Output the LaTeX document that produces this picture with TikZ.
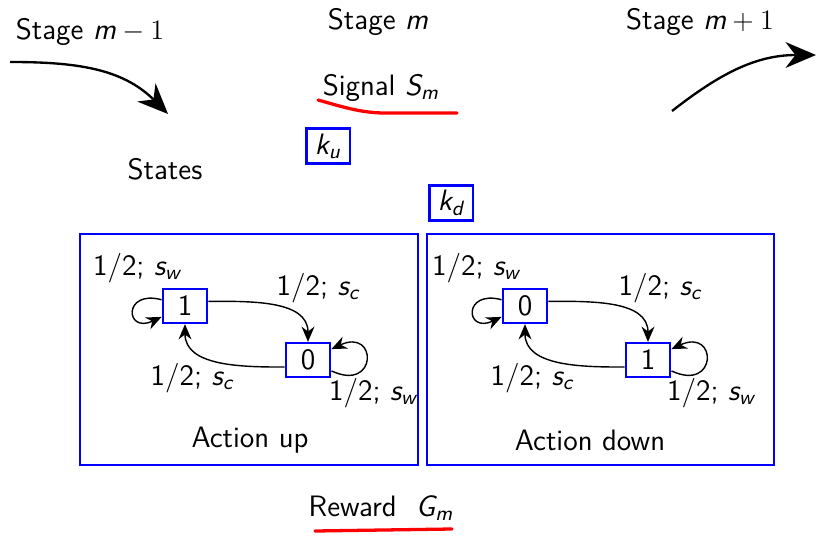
\documentclass[tikz,border=0pt]{standalone}
\usepackage{amstext}
\usetikzlibrary{arrows.meta}
\newcommand{\mv}[1]{\textit{#1}}

\begin{document}
\begin{tikzpicture}[x=0.015cm,y=0.015cm,font=\fontsize{12.6}{15}\sffamily,
  state/.style={draw=blue,line width=1pt,minimum width=19pt,minimum height=14.5pt,inner sep=1pt},
  kbox/.style={draw=blue,line width=1pt,minimum width=18.5pt,minimum height=15pt,inner sep=1pt},
  actbox/.style={draw=blue,line width=1.1pt},
  trans/.style={-{Stealth[length=6.5pt,width=5.5pt]},semithick},
  selfloop/.style={trans,loop,min distance=4mm,looseness=6},
  stagearrow/.style={-{Stealth[length=13pt,width=11pt]},line width=1pt},
  underl/.style={red,line width=1.4pt,line cap=round}]
  \useasboundingbox (0,-535) rectangle (819,0);
  % Stages
  \node (stprev) at (90,-32) {Stage $\mv{m}-1$};
  \node (stcur) at (378,-22) {Stage $\mv{m}$};
  \node (stnext) at (700,-22) {Stage $\mv{m}+1$};
  \coordinate (inA) at (10,-62);
  \coordinate (inB) at (168,-114);
  \coordinate (outA) at (672,-111);
  \coordinate (outB) at (816,-55);
  \draw[stagearrow] (inA) to[out=0,in=135] (inB);
  \draw[stagearrow] (outA) to[out=38,in=180] (outB);
  % Signal and its switches
  \node (signal) at (381,-88) {Signal $\mv{S}_{\mv{m}}$};
  \draw[underl] (318,-100) .. controls (340,-106) and (360,-113) .. (385,-113) -- (457,-113);
  \node[kbox] (ku) at (328,-146) {$\mv{k}_{\mv{u}}$};
  \node[kbox] (kd) at (451,-203) {$\mv{k}_{\mv{d}}$};
  \node (states) at (165,-169) {States};
  % Action up
  \draw[actbox] (80,-234) rectangle (418,-465);
  \node[state] (up1) at (185,-306) {1};
  \node[state] (up0) at (308,-360) {0};
  \draw[trans] ([yshift=2pt]up1.east) to[out=0,in=90] (up0.north);
  \draw[trans] ([yshift=-3pt]up0.west) to[out=180,in=-90] (up1.south);
  \draw[selfloop] (up1) to[out=165,in=205] (up1);
  \draw[selfloop] (up0) to[out=-25,in=25] (up0);
  \node (upA) at (137,-268) {1/2; $\mv{s}_{\mv{w}}$};
  \node (upB) at (318,-288) {1/2; $\mv{s}_{\mv{c}}$};
  \node (upC) at (192,-378) {1/2; $\mv{s}_{\mv{c}}$};
  \node (upD) at (373,-393) {1/2; $\mv{s}_{\mv{w}}$};
  \node (actup) at (250,-440) {Action up};
  % Action down
  \draw[actbox] (427,-234) rectangle (774,-465);
  \node[state] (dn0) at (525,-306) {0};
  \node[state] (dn1) at (648,-360) {1};
  \draw[trans] ([yshift=2pt]dn0.east) to[out=0,in=90] (dn1.north);
  \draw[trans] ([yshift=-3pt]dn1.west) to[out=180,in=-90] (dn0.south);
  \draw[selfloop] (dn0) to[out=165,in=205] (dn0);
  \draw[selfloop] (dn1) to[out=-25,in=25] (dn1);
  \node (dnA) at (476,-268) {1/2; $\mv{s}_{\mv{w}}$};
  \node (dnB) at (660,-288) {1/2; $\mv{s}_{\mv{c}}$};
  \node (dnC) at (532,-378) {1/2; $\mv{s}_{\mv{c}}$};
  \node (dnD) at (711,-393) {1/2; $\mv{s}_{\mv{w}}$};
  \node (actdn) at (590,-440) {Action down};
  % Reward
  \node (reward) at (381,-508) {Reward \ $\mv{G}_{\mv{m}}$};
  \draw[underl] (315,-531) -- (452,-529);
\end{tikzpicture}
\end{document}
